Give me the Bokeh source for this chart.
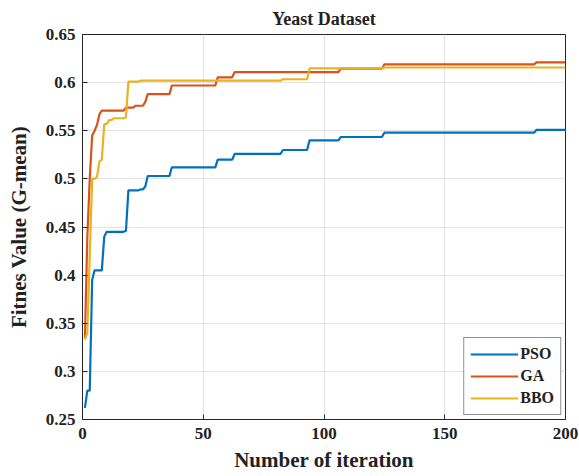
import numpy as np
from bokeh.plotting import figure
from bokeh.models import Range1d, FixedTicker, CustomJSTickFormatter, Legend, LegendItem
from bokeh.embed import file_html
from bokeh.resources import INLINE

# ---- data (iteration at which a new best value appears) ----
pso_iter = [1, 2, 3, 4, 5, 8, 9, 10, 18, 19, 24, 26, 27, 37, 56, 63, 83, 94, 107, 125, 188]
pso_val = [0.262, 0.280, 0.280, 0.395, 0.405, 0.405, 0.440, 0.445, 0.446, 0.488, 0.489, 0.492,
           0.503, 0.512, 0.520, 0.526, 0.530, 0.540, 0.5435, 0.548, 0.551]

ga_iter = [1, 2, 3, 4, 5, 6, 7, 8, 18, 22, 26, 27, 37, 56, 63, 107, 125, 188]
ga_val = [0.335, 0.440, 0.500, 0.545, 0.550, 0.556, 0.567, 0.571, 0.574, 0.576, 0.580, 0.588,
          0.597, 0.6055, 0.611, 0.6145, 0.619, 0.621]

bbo_iter = [1, 2, 3, 4, 6, 7, 8, 9, 11, 13, 18, 19, 24, 83, 94, 125]
bbo_val = [0.333, 0.340, 0.420, 0.500, 0.502, 0.518, 0.520, 0.557, 0.561, 0.563, 0.564, 0.601,
           0.602, 0.6035, 0.6148, 0.6157]

n_iterations = 200
x_ticks = [0, 50, 100, 150, 200]
y_ticks = [0.25, 0.3, 0.35, 0.4, 0.45, 0.5, 0.55, 0.6, 0.65]

series_names = ["PSO", "GA", "BBO"]
series_colors = ["#0072BD", "#D95319", "#EDB120"]

iterations = np.arange(1, n_iterations + 1)


def hold(change_iter, change_val):
    idx = np.searchsorted(np.asarray(change_iter), iterations, side="right") - 1
    return np.asarray(change_val)[idx]


FONT = "Liberation Serif"
TXT = "#222222"

p = figure(width=579, height=476, output_backend="svg", toolbar_location=None,
           x_range=Range1d(0, 200), y_range=Range1d(0.25, 0.65),
           min_border_left=82, min_border_right=14, min_border_top=34, min_border_bottom=57,
           title="Yeast Dataset")

p.title.text_font = FONT
p.title.text_font_style = "bold"
p.title.text_font_size = "18px"
p.title.align = "center"
p.title.text_color = TXT
p.title.standoff = 12

p.xaxis.ticker = FixedTicker(ticks=x_ticks)
p.yaxis.ticker = FixedTicker(ticks=y_ticks)
p.yaxis.formatter = CustomJSTickFormatter(code="return String(Math.round(tick*100)/100);")

for ax in (p.xaxis[0], p.yaxis[0]):
    ax.major_tick_in = 5
    ax.major_tick_out = 0
    ax.minor_tick_in = 0
    ax.minor_tick_out = 0
    ax.axis_line_color = "#262626"
    ax.major_tick_line_color = "#262626"
    ax.major_label_text_font = FONT
    ax.major_label_text_font_style = "bold"
    ax.major_label_text_font_size = "17px"
    ax.major_label_text_color = TXT
    ax.axis_label_text_font = FONT
    ax.axis_label_text_font_style = "bold"
    ax.axis_label_text_font_size = "21px"
    ax.axis_label_text_color = TXT

p.xaxis.axis_label = "Number of iteration"
p.yaxis.axis_label = "Fitnes Value (G-mean)"
p.xaxis.major_label_standoff = 8
p.xaxis.axis_label_standoff = 6
p.yaxis.major_label_standoff = 7
p.yaxis.axis_label_standoff = 12

p.xgrid.grid_line_color = "#e3e3e3"
p.ygrid.grid_line_color = "#e3e3e3"
p.outline_line_color = "#262626"
p.outline_line_alpha = 1.0
p.background_fill_color = "white"

renderers = []
for (it, val), col in zip([(pso_iter, pso_val), (ga_iter, ga_val), (bbo_iter, bbo_val)], series_colors):
    r = p.line(iterations, hold(it, val), line_color=col, line_width=2.2)
    renderers.append(r)

legend = Legend(items=[LegendItem(label=n, renderers=[r]) for n, r in zip(series_names, renderers)],
                location="bottom_right")
legend.label_text_font = FONT
legend.label_text_font_style = "bold"
legend.label_text_font_size = "16px"
legend.label_text_color = TXT
legend.glyph_width = 48
legend.glyph_height = 20
legend.label_height = 20
legend.label_standoff = 2
legend.padding = 6
legend.spacing = 2
legend.margin = 4
legend.border_line_color = "#262626"
legend.border_line_width = 1
legend.background_fill_alpha = 1.0
p.add_layout(legend)

open("out.html", "w").write(file_html(p, INLINE))
